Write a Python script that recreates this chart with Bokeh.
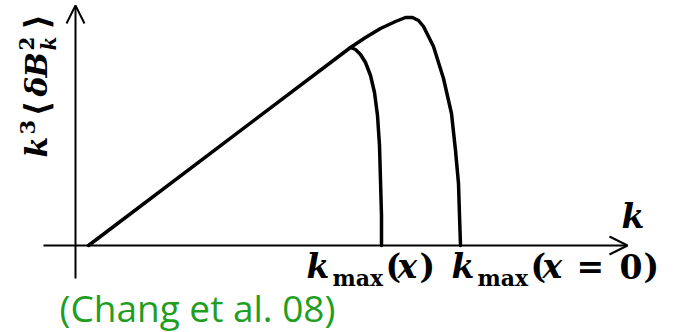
from bokeh.plotting import figure
from bokeh.models import Range1d, Arrow, OpenHead, ColumnDataSource
from bokeh.embed import file_html
from bokeh.resources import INLINE
from bokeh.core.properties import value
import math

# Schematic magnetic spectrum k^3 <dB_k^2>: a common linear rise,
# cut off at k_max(x) (inner curve) or at k_max(x=0) (outer curve).
rise_k = [0.13, 2.75]
rise_e = [0.00, 1.98]

inner_k = [2.75, 2.80, 2.85, 2.90, 2.95, 2.99, 3.02, 3.04, 3.05, 3.06, 3.06]
inner_e = [1.98, 1.96, 1.91, 1.83, 1.70, 1.53, 1.30, 1.00, 0.65, 0.30, 0.00]

outer_k = [2.75, 2.90, 3.05, 3.20, 3.30, 3.37, 3.43, 3.48, 3.58, 3.68, 3.76, 3.80, 3.83, 3.84, 3.85]
outer_e = [1.98, 2.08, 2.17, 2.24, 2.28, 2.28, 2.25, 2.19, 1.99, 1.67, 1.32, 0.95, 0.62, 0.30, 0.00]

citation = "(Chang et al. 08)"

X0, X1 = -0.75, 6.08
Y0, Y1 = -0.87, 2.45
W, H = 683, 332

p = figure(width=W, height=H, x_range=Range1d(X0, X1), y_range=Range1d(Y0, Y1),
           output_backend="svg", toolbar_location=None, min_border=0,
           x_axis_location=None, y_axis_location=None)
p.grid.visible = False
p.outline_line_color = None
p.background_fill_color = "white"
p.border_fill_color = "white"

# screen-pixel helpers for placing the annotation text
def sx(px):
    return X0 + px * (X1 - X0) / W

def sy(py):
    return Y1 - py * (Y1 - Y0) / H

# axes with open arrow heads
p.add_layout(Arrow(end=OpenHead(size=18, line_width=2, line_color="black"),
                   x_start=sx(43), y_start=0, x_end=sx(627), y_end=0,
                   line_width=2, line_color="black"))
p.add_layout(Arrow(end=OpenHead(size=18, line_width=2, line_color="black"),
                   x_start=0, y_start=sy(278), x_end=0, y_end=sy(5),
                   line_width=2, line_color="black"))

# spectra
for kk, ee in ((rise_k, rise_e), (inner_k, inner_e), (outer_k, outer_e)):
    p.line(kk, ee, line_width=3.5, line_color="black",
           line_join="round", line_cap="round")

SERIF = "DejaVu Serif"
DROP = 0.4  # baseline correction, in em

def run(pieces, base, vertical=False):
    """Place text pieces (text, style, size, start_px, shift_px) along a baseline."""
    xs, ys, ts, fs, ss, angs = [], [], [], [], [], []
    for text, style, size, start, shift in pieces:
        if vertical:
            xs.append(sx(base + shift - DROP * size)); ys.append(sy(start))
            angs.append(math.pi / 2)
        else:
            xs.append(sx(start)); ys.append(sy(base + shift - DROP * size))
            angs.append(0.0)
        ts.append(text); fs.append(f"{size}px"); ss.append(style)
    src = ColumnDataSource(dict(x=xs, y=ys, text=ts, size=fs, style=ss, angle=angs))
    p.text("x", "y", text="text", angle="angle", source=src,
           text_font=value(SERIF), text_font_size="size", text_font_style="style",
           text_color="black", text_align="left", text_baseline="alphabetic")

BI, B = "bold italic", "bold"
M, S = 33, 22
run([("k", BI, M, 306, 0), ("max", B, S, 332, 7), ("(", B, M, 385, 0),
     ("x", BI, M, 397, 0), (")", B, M, 419, 0)], 279)
run([("k", BI, M, 451, 0), ("max", B, S, 477, 7), ("(", B, M, 530, 0),
     ("x", BI, M, 542, 0), ("=", B, M, 576, 0), ("0", B, M, 619, 0),
     (")", B, M, 643, 0)], 279)

# axis symbol k
run([("k", BI, M, 621, 0)], 229)

# rotated y label k^3 <dB_k^2>
Y = 30
run([("k", BI, Y, 157, 0), ("3", B, 21, 134, -13), ("\u27e8", B, 34, 116, 2),
     ("\u03b4", BI, Y, 96, 0), ("B", BI, Y, 77, 0), ("k", BI, 20, 50, 8),
     ("2", B, 20, 50, -14), ("\u27e9", B, 34, 29, 2)], 48, vertical=True)

# citation
p.text([sx(59)], [sy(322 - DROP * 37)], text=[citation], text_font=value("Open Sans"),
       text_font_size="37px", text_color="#1f9e1f",
       text_align="left", text_baseline="alphabetic")

open("out.html", "w").write(file_html(p, INLINE))
